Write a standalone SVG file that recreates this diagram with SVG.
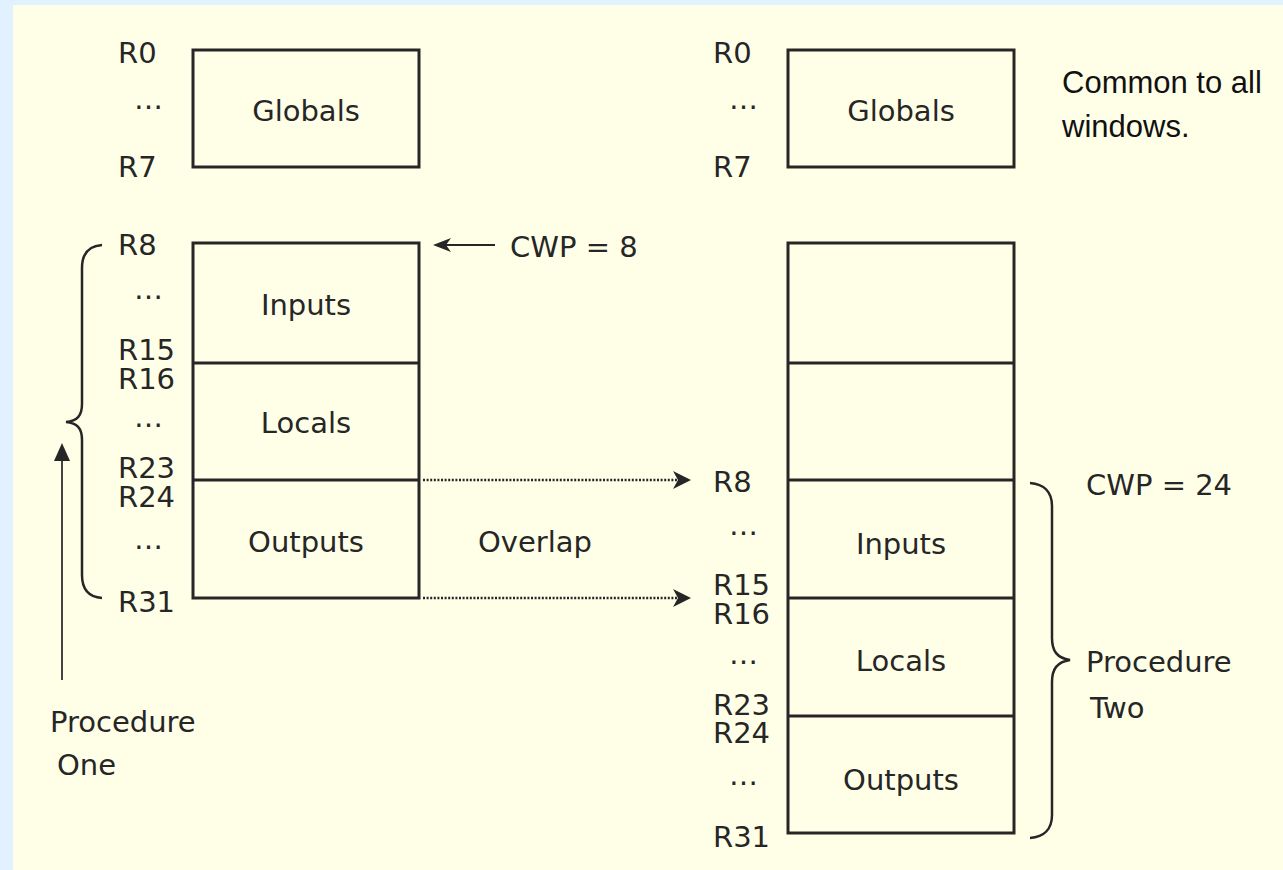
<svg xmlns="http://www.w3.org/2000/svg" width="1283" height="870" viewBox="0 0 1283 870">
<style>
.t{font-family:"DejaVu Sans",sans-serif;font-size:29px;fill:#262626}
.c{text-anchor:middle}
.n{font-family:"Liberation Sans",Arial,sans-serif;font-size:31px;fill:#111}
.box{fill:none;stroke:#262626;stroke-width:3}
.ln{stroke:#262626;stroke-width:3;fill:none}
.br{stroke:#262626;stroke-width:2.5;fill:none}
.dot{stroke:#262626;stroke-width:2.5;stroke-dasharray:2 1.6;fill:none}
.ah{fill:#262626}
</style>
<rect x="0" y="0" width="1283" height="870" fill="#E2F1FF"/>
<rect x="13" y="5" width="1270" height="865" fill="#FFFFE8"/>

<g id="left-globals">
<rect class="box" x="193" y="50" width="226" height="117"/>
<text class="t c" x="306" y="121">Globals</text>
<text class="t" x="118" y="63">R0</text>
<text class="t" x="134" y="109">…</text>
<text class="t" x="118" y="177">R7</text>
</g>

<g id="left-window">
<rect class="box" x="193" y="243" width="226" height="355"/>
<line class="ln" x1="193" y1="363" x2="419" y2="363"/>
<line class="ln" x1="193" y1="480" x2="419" y2="480"/>
<text class="t c" x="306" y="315">Inputs</text>
<text class="t c" x="306" y="433">Locals</text>
<text class="t c" x="306" y="552">Outputs</text>
<text class="t" x="118" y="255">R8</text>
<text class="t" x="134" y="299">…</text>
<text class="t" x="118" y="360">R15</text>
<text class="t" x="118" y="389">R16</text>
<text class="t" x="134" y="427">…</text>
<text class="t" x="118" y="478">R23</text>
<text class="t" x="118" y="507">R24</text>
<text class="t" x="134" y="549">…</text>
<text class="t" x="118" y="612">R31</text>
</g>

<g id="right-globals">
<rect class="box" x="788" y="50" width="226" height="117"/>
<text class="t c" x="901" y="121">Globals</text>
<text class="t" x="713" y="63">R0</text>
<text class="t" x="729" y="109">…</text>
<text class="t" x="713" y="177">R7</text>
</g>

<g id="right-window">
<rect class="box" x="788" y="243" width="226" height="590"/>
<line class="ln" x1="788" y1="363" x2="1014" y2="363"/>
<line class="ln" x1="788" y1="480" x2="1014" y2="480"/>
<line class="ln" x1="788" y1="598" x2="1014" y2="598"/>
<line class="ln" x1="788" y1="716" x2="1014" y2="716"/>
<text class="t c" x="901" y="554">Inputs</text>
<text class="t c" x="901" y="671">Locals</text>
<text class="t c" x="901" y="790">Outputs</text>
<text class="t" x="713" y="492">R8</text>
<text class="t" x="729" y="535">…</text>
<text class="t" x="713" y="595">R15</text>
<text class="t" x="713" y="624">R16</text>
<text class="t" x="729" y="664">…</text>
<text class="t" x="713" y="715">R23</text>
<text class="t" x="713" y="743">R24</text>
<text class="t" x="729" y="785">…</text>
<text class="t" x="713" y="847">R31</text>
</g>

<g id="common-note">
<text class="n" x="1062" y="93">Common to all</text>
<text class="n" x="1062" y="137">windows.</text>
</g>

<g id="procedure-one">
<path class="br" d="M102,245 C88,246 82,254 82,268 L82,404 C82,416 77,421 66,422 C77,423 82,428 82,440 L82,575 C82,589 88,597 102,598"/>
<text class="t" x="50" y="732">Procedure</text>
<text class="t" x="57" y="775">One</text>
</g>

<g id="procedure-two">
<path class="br" d="M1030,483 C1044,484 1052,492 1052,506 L1052,638 C1052,651 1057,658 1070,660 C1057,662 1052,669 1052,682 L1052,815 C1052,829 1044,837 1030,838"/>
<text class="t" x="1086" y="495">CWP = 24</text>
<text class="t" x="1086" y="672">Procedure</text>
<text class="t" x="1090" y="718">Two</text>
</g>

<g id="cwp8">
<text class="t" x="510" y="257">CWP = 8</text>
</g>

<g id="connectors">
<line x1="62" y1="680" x2="62" y2="456" stroke="#444" stroke-width="2"/>
<polygon class="ah" points="62,443 54,461 70,461"/>
<line class="ln" x1="495" y1="245" x2="444" y2="245" style="stroke-width:2"/>
<polygon class="ah" points="433,245 451,238 446,245 451,252"/>
<line class="dot" x1="423" y1="480" x2="678" y2="480"/>
<polygon class="ah" points="691,480 673,471 678,480 673,489"/>
<line class="dot" x1="423" y1="598" x2="678" y2="598"/>
<polygon class="ah" points="691,598 673,589 678,598 673,607"/>
<text class="t" x="478" y="552">Overlap</text>
</g>
</svg>
